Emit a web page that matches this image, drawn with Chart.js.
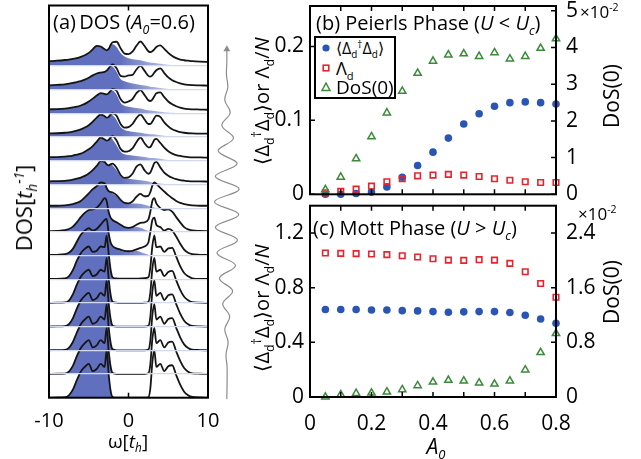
<!DOCTYPE html>
<html>
<head>
<meta charset="utf-8">
<script src="https://cdn.jsdelivr.net/npm/chart.js@4.4.1/dist/chart.umd.min.js"></script>
<style>
  body { margin: 0; background: #fff; }
  #page { position: relative; width: 641px; height: 459px; overflow: hidden; font-family: "Open Sans", sans-serif; color: #000; }
  canvas { position: absolute; }
  .lbl { position: absolute; white-space: nowrap; line-height: 1; }
  .up { transform: translate(-50%, -50%) rotate(-90deg); }
  .mid { transform: translate(-50%, -50%); }
  sub, sup { font-size: 0.62em; line-height: 0; }
  #legend { position: absolute; left: 314px; top: 36px; width: 82px; height: 63px; box-sizing: border-box; border: 2px solid #000; background: #fff; }
  #legend .row { position: absolute; left: 20px; white-space: nowrap; line-height: 1; transform: translateY(-50%); }
  #legend svg { position: absolute; left: 4px; }
</style>
</head>
<body>
<div id="page">
  <canvas id="dosChart" width="230" height="459" style="left:0;top:0"></canvas>
  <canvas id="pulseChart" width="45" height="380" style="left:205px;top:30px"></canvas>
  <canvas id="peierlsChart" width="391" height="200" style="left:250px;top:0"></canvas>
  <canvas id="mottChart" width="391" height="259" style="left:250px;top:200px"></canvas>

  <div class="lbl" style="left:53px;top:12px;font-size:20px">(a)&thinsp;DOS (<i>A</i><sub><i>0</i></sub>=0.6)</div>
  <div class="lbl up" style="left:23px;top:208px;font-size:22px">DOS[<i>t</i><sub><i>h</i></sub><sup><i>-1</i></sup>]</div>
  <div class="lbl mid" style="left:128px;top:441px;font-size:19px">ω[<i>t</i><sub><i>h</i></sub>]</div>

  <div class="lbl" style="left:316px;top:13px;font-size:20px">(b) Peierls Phase (<i>U</i> &lt; <i>U</i><sub><i>c</i></sub>)</div>
  <div class="lbl up" style="left:262px;top:101px;font-size:20px">⟨Δ<sub>d</sub><sup>†</sup>Δ<sub>d</sub>⟩or Λ<sub>d</sub>/<i>N</i></div>
  <div class="lbl up" style="left:611px;top:96px;font-size:21px">DoS(0)</div>
  <div class="lbl" style="left:580px;top:3px;font-size:17px">×10<sup>-2</sup></div>

  <div class="lbl" style="left:313px;top:218px;font-size:20px">(c) Mott Phase (<i>U</i> &gt; <i>U</i><sub><i>c</i></sub>)</div>
  <div class="lbl up" style="left:262px;top:308px;font-size:20px">⟨Δ<sub>d</sub><sup>†</sup>Δ<sub>d</sub>⟩or Λ<sub>d</sub>/<i>N</i></div>
  <div class="lbl up" style="left:611px;top:292px;font-size:21px">DoS(0)</div>
  <div class="lbl" style="left:578px;top:205px;font-size:17px">×10<sup>-2</sup></div>
  <div class="lbl mid" style="left:436px;top:446px;font-size:21px"><i>A</i><sub><i>0</i></sub></div>

  <div id="legend">
    <svg width="12" height="12" style="top:4px"><circle cx="6" cy="6" r="3.6" fill="#2a55b2"/></svg>
    <div class="row" style="top:10px;font-size:16px">⟨Δ<sub>d</sub><sup>†</sup>Δ<sub>d</sub>⟩</div>
    <svg width="12" height="12" style="top:24px"><rect x="3.2" y="3.2" width="5.6" height="5.6" fill="none" stroke="#e8232b" stroke-width="1.6"/></svg>
    <div class="row" style="top:30px;font-size:18px">Λ<sub>d</sub></div>
    <svg width="12" height="12" style="top:43px"><polygon points="6,2 10,9.5 2,9.5" fill="none" stroke="#3b8a3b" stroke-width="1.5"/></svg>
    <div class="row" style="top:49px;font-size:19px">DoS(0)</div>
  </div>
</div>

<script>
// ---- panel (a): DOS waterfall, values in units of one strip height ----
const omega = [-10,-9,-8,-7.5,-7,-6.5,-6,-5.5,-5,-4.5,-4,-3.5,-3,-2.75,-2.5,-2.25,-2,-1.5,-1,-0.5,0,0.5,1,1.5,2,2.5,2.75,3,3.25,3.5,4,4.5,5,5.5,6,6.5,7,7.5,8,9,10];
const omegaTicks = [-10, 0, 10];

// top strip first
const dos0  = [0.2,0.22,0.25,0.27,0.3,0.33,0.38,0.45,0.55,0.7,0.85,0.82,0.7,0.66,0.72,0.88,1.0,1.02,0.75,0.52,0.5,0.6,0.85,1.03,0.85,0.62,0.58,0.62,0.7,0.8,0.87,0.72,0.55,0.42,0.33,0.27,0.24,0.22,0.2,0.18,0.17];
const dos1  = [0.18,0.2,0.22,0.25,0.28,0.32,0.36,0.42,0.5,0.6,0.68,0.72,0.75,0.8,0.9,1.0,1.06,0.9,0.58,0.55,0.6,0.62,0.85,1.0,0.8,0.58,0.55,0.6,0.72,0.82,0.9,0.7,0.52,0.4,0.32,0.26,0.22,0.2,0.19,0.18,0.17];
const dos2  = [0.17,0.18,0.2,0.22,0.25,0.28,0.33,0.4,0.5,0.62,0.75,0.85,0.82,0.8,0.85,0.95,1.02,0.95,0.6,0.45,0.5,0.6,0.85,0.98,0.78,0.55,0.52,0.58,0.72,0.85,0.88,0.68,0.5,0.38,0.3,0.24,0.2,0.18,0.17,0.16,0.15];
const dos3  = [0.15,0.16,0.18,0.2,0.23,0.27,0.32,0.4,0.5,0.65,0.82,0.95,0.88,0.82,0.85,0.95,1.0,0.9,0.55,0.4,0.42,0.55,0.8,0.95,0.75,0.55,0.55,0.65,0.8,0.9,0.85,0.62,0.45,0.33,0.26,0.21,0.18,0.16,0.15,0.14,0.14];
const dos4  = [0.15,0.15,0.17,0.19,0.22,0.26,0.3,0.38,0.48,0.62,0.8,0.98,0.9,0.85,0.88,0.98,1.04,0.85,0.5,0.38,0.4,0.52,0.78,0.98,0.75,0.56,0.58,0.72,0.88,0.92,0.75,0.55,0.4,0.3,0.24,0.2,0.17,0.15,0.14,0.14,0.13];
const dos5  = [0.13,0.14,0.15,0.17,0.2,0.24,0.29,0.36,0.46,0.6,0.78,0.98,0.95,0.85,0.8,0.85,0.88,0.7,0.4,0.28,0.3,0.45,0.75,0.85,0.6,0.45,0.5,0.7,0.9,0.95,0.72,0.5,0.37,0.28,0.22,0.18,0.16,0.14,0.13,0.13,0.12];
const dos6  = [0.1,0.1,0.12,0.14,0.17,0.22,0.3,0.45,0.62,0.8,0.92,1.08,1.05,0.85,0.72,0.68,0.66,0.55,0.35,0.22,0.2,0.28,0.48,0.6,0.5,0.52,0.68,0.95,1.08,1.02,0.85,0.7,0.55,0.42,0.3,0.22,0.17,0.14,0.12,0.1,0.1];
const dos7  = [0.03,0.04,0.07,0.12,0.22,0.4,0.62,0.8,0.92,0.95,1.02,1.2,1.42,1.3,0.85,0.6,0.5,0.4,0.3,0.2,0.17,0.2,0.3,0.38,0.4,0.52,0.85,1.3,1.42,1.2,1.0,0.92,0.95,0.85,0.62,0.4,0.2,0.1,0.06,0.04,0.03];
const dos8  = [0.02,0.03,0.06,0.12,0.28,0.58,0.88,1.05,1.15,1.05,1.12,1.3,1.5,1.55,0.95,0.55,0.4,0.3,0.25,0.2,0.18,0.2,0.26,0.32,0.38,0.55,1.0,1.5,1.6,1.3,1.2,1.05,1.12,1.05,0.8,0.5,0.25,0.12,0.06,0.03,0.02];
const dos9  = [0.01,0.01,0.03,0.12,0.38,0.78,1.1,1.28,1.38,1.15,1.2,1.38,1.35,1.85,1.1,0.4,0.08,0.03,0.02,0.02,0.02,0.02,0.02,0.03,0.04,0.08,0.5,1.4,1.85,1.35,1.38,1.15,1.3,1.32,0.95,0.55,0.26,0.12,0.04,0.01,0.01];
const dos10 = [0,0.01,0.02,0.1,0.36,0.77,1.1,1.3,1.4,1.13,1.2,1.4,1.32,1.9,1.05,0.35,0.05,0.01,0,0,0,0,0,0,0.01,0.04,0.45,1.45,1.9,1.32,1.4,1.13,1.3,1.35,0.95,0.55,0.26,0.11,0.03,0.01,0];
const dos11 = [0,0.01,0.02,0.1,0.35,0.76,1.1,1.3,1.42,1.12,1.2,1.42,1.3,1.95,1.0,0.32,0.04,0,0,0,0,0,0,0,0,0.03,0.42,1.48,1.95,1.3,1.42,1.12,1.32,1.36,0.95,0.55,0.25,0.1,0.03,0.01,0];
const dos12 = [0,0.01,0.02,0.1,0.35,0.75,1.1,1.3,1.42,1.12,1.2,1.42,1.3,1.95,1.0,0.32,0.04,0,0,0,0,0,0,0,0,0.03,0.42,1.48,1.95,1.3,1.42,1.12,1.32,1.36,0.95,0.55,0.25,0.1,0.03,0.01,0];
const dos13 = [0,0.01,0.02,0.1,0.34,0.75,1.1,1.3,1.43,1.12,1.21,1.43,1.3,1.95,1.0,0.32,0.04,0,0,0,0,0,0,0,0,0.03,0.42,1.48,1.95,1.3,1.43,1.12,1.33,1.37,0.95,0.55,0.25,0.1,0.03,0.01,0];
const dos14 = [0,0.01,0.02,0.1,0.34,0.74,1.1,1.3,1.43,1.12,1.21,1.43,1.3,2.0,1.0,0.3,0.03,0,0,0,0,0,0,0,0,0.02,0.4,1.5,2.0,1.3,1.43,1.12,1.33,1.37,0.95,0.55,0.25,0.1,0.03,0.01,0];

// occupied (shaded) part from omega = -2 on; below -2 it is the full DOS
const occ0  = [0.92,0.8,0.55,0.4,0.32,0.28,0.26,0.24,0.2,0.16,0.14,0.13,0.12,0.11,0.09,0.07,0.05,0.03,0.02,0.01,0];
const occ1  = [0.98,0.75,0.45,0.35,0.3,0.26,0.23,0.2,0.17,0.14,0.12,0.11,0.1,0.09,0.07,0.05,0.03,0.02,0.01,0];
const occ2  = [0.95,0.78,0.45,0.32,0.28,0.25,0.22,0.2,0.16,0.13,0.12,0.11,0.1,0.09,0.07,0.05,0.03,0.02,0.01,0];
const occ3  = [0.92,0.72,0.42,0.3,0.25,0.22,0.2,0.18,0.15,0.13,0.12,0.12,0.11,0.1,0.08,0.05,0.03,0.02,0.01,0];
const occ4  = [0.9,0.65,0.38,0.27,0.24,0.22,0.2,0.18,0.16,0.13,0.12,0.12,0.11,0.1,0.08,0.05,0.03,0.02,0.01,0];
const occ5  = [0.8,0.6,0.35,0.25,0.24,0.22,0.2,0.18,0.15,0.12,0.1,0.08,0.06,0.05,0.04,0.02,0.01,0];
const occ6  = [0.62,0.5,0.32,0.2,0.18,0.2,0.2,0.18,0.14,0.1,0.07,0.05,0.03,0.02,0.01,0];
const occ7  = [0.5,0.4,0.3,0.2,0.17,0.18,0.2,0.17,0.1,0.04,0];
const occ8  = [0.4,0.3,0.25,0.2,0.17,0.18,0.2,0.15,0.08,0.03,0];
const occ9  = [0.08,0.03,0.02,0.01,0.01,0];
const occ10 = [0.05,0.01,0];
const occ11 = [0.04,0];
const occ12 = [0.04,0];
const occ13 = [0.04,0];
const occ14 = [0.03,0];

const dosCurves = [dos0,dos1,dos2,dos3,dos4,dos5,dos6,dos7,dos8,dos9,dos10,dos11,dos12,dos13,dos14];
const occTails = [occ0,occ1,occ2,occ3,occ4,occ5,occ6,occ7,occ8,occ9,occ10,occ11,occ12,occ13,occ14];
const occStart = omega.indexOf(-2);

// pulse A(t) drawn next to the waterfall (time runs upward)
const pulseTime = [0,2.5,3.5,4.5,5.5,6.5,7.5,8.5,9.5,10.5,11.5,12.5,13.5,14.5,15.5,16.5,17.5,18.5,19.5,20.5,21.5,22.5,23.5,24.5,25.5,26.5,27.5];
const pulseAmp  = [0,0.3,-1,1.5,-2.5,3.5,-5,7,-9,10.5,-12,13,-14,14.5,-15,15,-14,12.5,-10.5,8,-6,4,-2.5,1.2,-0.5,0,0];

// ---- panels (b) and (c) ----
const A0 = [0.05,0.1,0.15,0.2,0.25,0.3,0.35,0.4,0.45,0.5,0.55,0.6,0.65,0.7,0.75,0.8];
const a0Ticks = [0,0.2,0.4,0.6,0.8];
const a0Minor = [0,0.1,0.2,0.3,0.4,0.5,0.6,0.7,0.8];

const peierlsPair   = [0,0,0.001,0.003,0.01,0.023,0.039,0.057,0.076,0.095,0.109,0.119,0.124,0.125,0.124,0.122];
const peierlsLambda = [0.002,0.004,0.007,0.011,0.017,0.021,0.025,0.026,0.027,0.026,0.024,0.021,0.019,0.017,0.016,0.016];
const peierlsDos0   = [0.13,0.47,0.97,1.57,2.22,2.81,3.3,3.63,3.8,3.83,3.76,3.86,3.69,3.76,3.98,4.24];
const peierlsLeftTicks = [0,0.1,0.2];
const peierlsRightTicks = [0,1,2,3,4,5];

const mottPair   = [0.64,0.64,0.64,0.637,0.637,0.632,0.63,0.625,0.62,0.623,0.625,0.625,0.618,0.598,0.571,0.539];
const mottLambda = [1.054,1.051,1.049,1.047,1.042,1.034,1.025,1.012,1.002,1.0,1.005,1.002,0.978,0.917,0.831,0.73];
const mottDos0   = [0,0.034,0.054,0.059,0.074,0.108,0.167,0.22,0.245,0.235,0.206,0.19,0.235,0.397,0.652,0.93];
const mottLeftTicks = [0,0.4,0.8,1.2];
const mottRightTicks = [0,0.8,1.6,2.4];

const BLUE = '#2a55b2', RED = '#e8232b', GREEN = '#3b8a3b';
const SHADE = 'rgb(97,112,190)';

Chart.defaults.font.family = '"Open Sans", sans-serif';
Chart.defaults.color = '#000';
Chart.defaults.animation = false;
Chart.defaults.events = [];

const framePlugin = {
  id: 'frame',
  afterDraw(chart, args, opts) {
    const { ctx, chartArea: a, scales } = chart;
    ctx.save();
    ctx.strokeStyle = '#000';
    ctx.lineWidth = 1.5;
    ctx.beginPath();
    (opts.xTicks || []).forEach(v => {
      const px = scales.x.getPixelForValue(v);
      ctx.moveTo(px, a.bottom); ctx.lineTo(px, a.bottom - 5);
      ctx.moveTo(px, a.top); ctx.lineTo(px, a.top + 5);
    });
    (opts.yTicks || []).forEach(v => {
      const py = scales.y.getPixelForValue(v);
      ctx.moveTo(a.left, py); ctx.lineTo(a.left + 5, py);
    });
    (opts.y2Ticks || []).forEach(v => {
      const py = scales.y2.getPixelForValue(v);
      ctx.moveTo(a.right, py); ctx.lineTo(a.right - 5, py);
    });
    ctx.stroke();
    ctx.lineWidth = 2;
    ctx.strokeRect(a.left, a.top, a.right - a.left, a.bottom - a.top);
    ctx.restore();
  }
};

function fixedTicks(values) {
  return scale => { scale.ticks = values.map(v => ({ value: v })); };
}

// keep the plot box where the layout puts it: no extra room for edge labels
function fixedWidth(w) {
  return s => { s.width = w; s.paddingTop = 0; s.paddingBottom = 0; };
}

// ---- panel (a) ----
function shade(context) {
  const chart = context.chart;
  if (!chart.chartArea) return SHADE;
  const x = chart.scales.x;
  const g = chart.ctx.createLinearGradient(x.getPixelForValue(-1), 0, x.getPixelForValue(6), 0);
  g.addColorStop(0, SHADE);
  g.addColorStop(1, 'rgba(97,112,190,0.3)');
  return g;
}

const topStrip = dosCurves.length - 1;
const lineSets = dosCurves.map((vals, k) => ({
  data: omega.map((w, i) => ({ x: w, y: topStrip - k + vals[i] })),
  borderColor: '#151515',
  borderWidth: 1.8,
  pointRadius: 0,
  fill: false,
  cubicInterpolationMode: 'monotone'
}));
const fillSets = dosCurves.map((vals, k) => {
  const occ = vals.slice(0, occStart).concat(occTails[k]);
  return {
    data: occ.map((v, i) => ({ x: omega[i], y: topStrip - k + v })),
    borderWidth: 0,
    pointRadius: 0,
    backgroundColor: shade,
    fill: { value: topStrip - k },
    cubicInterpolationMode: 'monotone'
  };
});

new Chart(document.getElementById('dosChart'), {
  type: 'line',
  data: { datasets: lineSets.concat(fillSets) },
  options: {
    responsive: false,
    layout: { padding: { left: 49, right: 22, top: 5.5, bottom: 0 } },
    plugins: {
      legend: { display: false },
      tooltip: { enabled: false },
      filler: { drawTime: 'beforeDatasetsDraw' },
      frame: { xTicks: [0] }
    },
    scales: {
      x: {
        type: 'linear', min: -10, max: 10,
        afterBuildTicks: fixedTicks(omegaTicks),
        ticks: { font: { size: 20 }, padding: 4, maxRotation: 0 },
        grid: { display: false },
        border: { display: false },
        afterFit: s => { s.height = 61.3; }
      },
      y: {
        min: 0, max: 16.55,
        afterBuildTicks: fixedTicks(dosCurves.map((c, k) => k)),
        ticks: { display: false },
        grid: { color: '#d3d8ea', lineWidth: 1.2, drawTicks: false, z: 1 },
        border: { display: false },
        afterFit: fixedWidth(0)
      }
    }
  },
  plugins: [framePlugin]
});

// ---- pulse ----
new Chart(document.getElementById('pulseChart'), {
  type: 'scatter',
  data: {
    datasets: [{
      data: pulseTime.map((t, i) => ({ x: pulseAmp[i], y: t })),
      showLine: true,
      tension: 0.4,
      borderColor: '#8c8c8c',
      borderWidth: 1.2,
      pointRadius: pulseTime.map((t, i) => i === pulseTime.length - 1 ? 4 : 0),
      pointStyle: 'triangle',
      pointBackgroundColor: '#8c8c8c',
      pointBorderWidth: 0
    }]
  },
  options: {
    responsive: false,
    plugins: { legend: { display: false }, tooltip: { enabled: false } },
    scales: {
      x: { display: false, min: -21.7, max: 23.3 },
      y: { display: false, min: -0.54, max: 28.69 }
    }
  }
});

// ---- panels (b) and (c) ----
function phaseSets(pair, lambda, dos0) {
  return [
    { data: A0.map((a, i) => ({ x: a, y: dos0[i] })), yAxisID: 'y2', pointStyle: 'triangle', pointRadius: 4.2,
      pointBorderColor: GREEN, pointBackgroundColor: 'rgba(0,0,0,0)', pointBorderWidth: 1.5, clip: false },
    { data: A0.map((a, i) => ({ x: a, y: lambda[i] })), yAxisID: 'y', pointStyle: 'rect', pointRadius: 3.9,
      pointBorderColor: RED, pointBackgroundColor: 'rgba(0,0,0,0)', pointBorderWidth: 1.6, clip: false },
    { data: A0.map((a, i) => ({ x: a, y: pair[i] })), yAxisID: 'y', pointStyle: 'circle', pointRadius: 3.8,
      pointBorderColor: BLUE, pointBackgroundColor: BLUE, pointBorderWidth: 0, clip: false }
  ];
}

function phaseOptions(o) {
  return {
    responsive: false,
    layout: { padding: o.padding },
    plugins: {
      legend: { display: false },
      tooltip: { enabled: false },
      frame: { xTicks: a0Minor, yTicks: o.leftTicks, y2Ticks: o.rightTicks }
    },
    scales: {
      x: o.showX ? {
        type: 'linear', min: 0, max: 0.8,
        afterBuildTicks: fixedTicks(a0Ticks),
        ticks: { font: { size: 21 }, padding: 6, maxRotation: 0, callback: v => String(v) },
        grid: { display: false }, border: { display: false },
        afterFit: s => { s.height = o.xHeight; s.paddingLeft = 0; s.paddingRight = 0; }
      } : { type: 'linear', min: 0, max: 0.8, display: false },
      y: {
        position: 'left', min: 0, max: o.leftMax,
        afterBuildTicks: fixedTicks(o.leftTicks),
        ticks: { font: { size: 21 }, padding: 6, callback: v => String(v) },
        grid: { display: false, drawTicks: false }, border: { display: false },
        afterFit: fixedWidth(60)
      },
      y2: {
        position: 'right', min: 0, max: o.rightMax,
        afterBuildTicks: fixedTicks(o.rightTicks),
        ticks: { font: { size: 21 }, padding: 10, callback: v => String(v) },
        grid: { display: false, drawTicks: false }, border: { display: false },
        afterFit: fixedWidth(85)
      }
    }
  };
}

new Chart(document.getElementById('peierlsChart'), {
  type: 'scatter',
  data: { datasets: phaseSets(peierlsPair, peierlsLambda, peierlsDos0) },
  options: phaseOptions({
    padding: { top: 6, bottom: 4, left: 0, right: 0 },
    showX: false, leftMax: 0.2547, rightMax: 5.13,
    leftTicks: peierlsLeftTicks, rightTicks: peierlsRightTicks
  }),
  plugins: [framePlugin]
});

new Chart(document.getElementById('mottChart'), {
  type: 'scatter',
  data: { datasets: phaseSets(mottPair, mottLambda, mottDos0) },
  options: phaseOptions({
    padding: { top: 5, bottom: 0, left: 0, right: 0 },
    showX: true, xHeight: 62, leftMax: 1.4, rightMax: 2.8,
    leftTicks: mottLeftTicks, rightTicks: mottRightTicks
  }),
  plugins: [framePlugin]
});
</script>
</body>
</html>
